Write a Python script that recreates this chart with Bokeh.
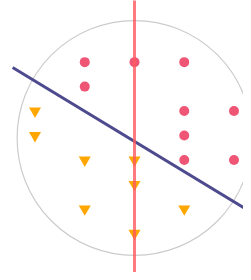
from bokeh.plotting import figure
from bokeh.embed import file_html
from bokeh.resources import INLINE

# Data
circle_x = [-1, 0, 1, -1, 1, 2, 1, 1, 2]
circle_y = [1.5, 1.5, 1.5, 1.0, 0.5, 0.5, 0.0, -0.5, -0.5]
tri_x = [-2, -2, -1, 0, 0, -1, 1, 0]
tri_y = [0.5, 0.0, -0.5, -0.5, -1.0, -1.5, -1.5, -2.0]

boundary_cx = [0.0]
boundary_cy = [-0.05]
boundary_r = 2.36

vline_x = [0.0, 0.0]
vline_y = [2.8, -2.88]
sep_x = [-2.45, 2.7]
sep_y = [1.39, -1.79]

W, H = 243, 272
px_per_x, px_per_y = 49.75, 48.9
x0_px, y0_px = 134, 135
p = figure(width=W, height=H, output_backend="svg", toolbar_location=None,
           x_range=(-x0_px / px_per_x, (W - x0_px) / px_per_x),
           y_range=((y0_px - H) / px_per_y, y0_px / px_per_y), min_border=0)
p.axis.visible = False
p.grid.visible = False
p.outline_line_color = None
p.background_fill_color = "white"

p.circle(x=boundary_cx, y=boundary_cy, radius=boundary_r, fill_color=None,
         line_color="#cccccc", line_width=1.2)
p.line(sep_x, sep_y, line_color="#4d4a8e", line_width=3)
p.scatter(circle_x, circle_y, marker="circle", size=10, fill_color="#ef5675", line_color=None)
p.scatter(tri_x, tri_y, marker="inverted_triangle", size=12, fill_color="#ffa600", line_color=None)
p.line(vline_x, vline_y, line_color="#ff5a5f", line_width=3, line_alpha=0.8)

open("out.html", "w").write(file_html(p, INLINE))
